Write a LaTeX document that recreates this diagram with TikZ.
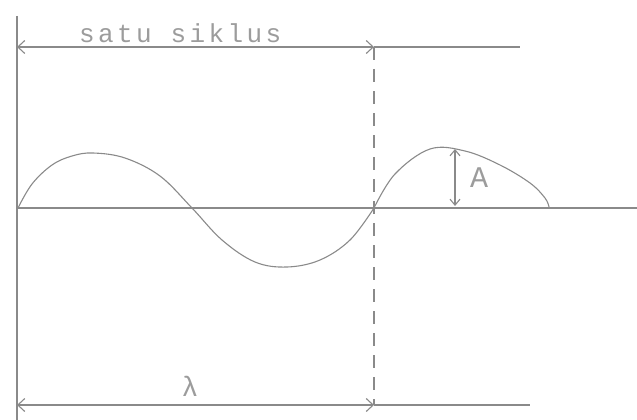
\documentclass[tikz,border=0pt]{standalone}
\usepackage{fontspec}
\usetikzlibrary{arrows.meta}
\newfontfamily\plotfont[LetterSpace=13]{Liberation Mono}
\newfontfamily\greekfont{Liberation Mono}
\definecolor{ink}{HTML}{8A8A8A}
\definecolor{txt}{HTML}{9C9C9C}
\begin{document}
\begin{tikzpicture}[x=1pt,y=-1pt,
  ln/.style={draw=ink,line width=1.1pt},
  dim/.style={ln,{Straight Barb[length=7pt,width=13pt]}-{Straight Barb[length=7pt,width=13pt]}},
  lbl/.style={text=txt,font=\plotfont\fontsize{26}{28}\selectfont,inner sep=0pt}]
\useasboundingbox (0,0) rectangle (637,420);
% coordinates
\coordinate (vtop) at (17,16);
\coordinate (vbot) at (17,420);
\coordinate (t0) at (17,47);
\coordinate (t1) at (374,47);
\coordinate (t2) at (520,47);
\coordinate (b0) at (17,405);
\coordinate (b1) at (374,405);
\coordinate (b2) at (530,405);
\coordinate (ax0) at (17,208);
\coordinate (ax1) at (637,208);
\coordinate (ampT) at (455,149);
\coordinate (ampB) at (455,206);
% lines
\draw[ln] (vtop) -- (vbot);
\draw[ln] (ax0) -- (ax1);
\draw[dim] (t0) -- (t1);
\draw[ln] (t1) -- (t2);
\draw[dim] (b0) -- (b1);
\draw[ln] (b1) -- (b2);
\draw[ln,dash pattern=on 13pt off 9pt] (t1) -- (b1);
% wave
\draw[ln] plot[smooth,tension=0.6] coordinates {(18,208) (32,184) (52,165) (72,156) (93,153) (125,158) (160,176) (192,208) (222,240) (255,262) (287,267) (320,260) (350,240) (374,208)};
\draw[ln] plot[smooth,tension=0.6] coordinates {(374,208) (395,174) (430,149) (465,151) (500,165) (530,183) (545,198) (549,207)};
% amplitude
\draw[ln,{Straight Barb[length=6pt,width=10pt]}-{Straight Barb[length=6pt,width=10pt]}] (ampB) -- (ampT);
% labels
\node[lbl,anchor=base west] (siklus) at (79,43) {satu siklus};
\node[lbl,anchor=center,font=\plotfont\fontsize{30}{32}\selectfont] (amp) at (479,178) {A};
\node[text=txt,inner sep=0pt,anchor=base,font=\greekfont\fontsize{28}{30}\selectfont] (lam) at (190,396) {λ};
\end{tikzpicture}
\end{document}
